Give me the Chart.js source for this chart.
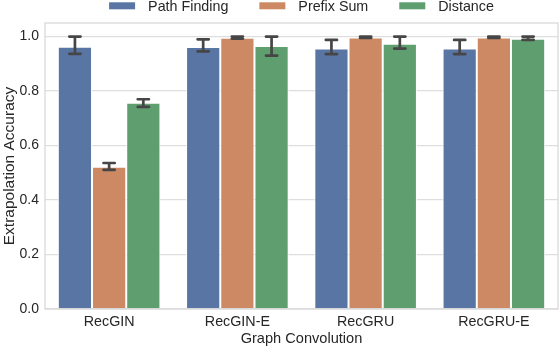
<!DOCTYPE html>
<html>
<head>
<meta charset="utf-8">
<script src="https://cdn.jsdelivr.net/npm/chart.js@4.4.1/dist/chart.umd.min.js"></script>
<style>
  html, body { margin: 0; padding: 0; background: #fff; }
  #wrap { width: 560px; height: 348px; }
</style>
</head>
<body>
<div id="wrap"><canvas id="chart" width="560" height="348"></canvas></div>
<script>
const categories = ["RecGIN", "RecGIN-E", "RecGRU", "RecGRU-E"];
const seriesNames = ["Path Finding", "Prefix Sum", "Distance"];
const seriesColors = ["#5875a4", "#cc8963", "#5f9e6e"];

const pathFinding = [0.963, 0.962, 0.956, 0.956];
const pathFindingLow = [0.937, 0.946, 0.936, 0.936];
const pathFindingHigh = [1.0, 0.990, 0.988, 0.988];

const prefixSum = [0.522, 0.996, 0.997, 0.997];
const prefixSumLow = [0.511, 0.993, 0.995, 0.995];
const prefixSumHigh = [0.536, 1.0, 1.0, 1.0];

const distance = [0.757, 0.966, 0.974, 0.992];
const distanceLow = [0.742, 0.930, 0.956, 0.988];
const distanceHigh = [0.770, 1.0, 1.0, 1.0];

const yTicks = [0, 0.2, 0.4, 0.6, 0.8, 1.0];

const textColor = "#262626";
const fontFamily = '"Liberation Sans", Arial, sans-serif';
const errorRanges = [
  [pathFindingLow, pathFindingHigh],
  [prefixSumLow, prefixSumHigh],
  [distanceLow, distanceHigh]
];

// frame around the plot + seaborn-like error bars with caps
const errorBarPlugin = {
  id: "errorBars",
  afterDatasetsDraw(chart) {
    const c = chart.ctx;
    const a = chart.chartArea;
    const y = chart.scales.y;
    c.save();
    c.strokeStyle = "#d9d9d9";
    c.lineWidth = 1.3;
    c.strokeRect(a.left, a.top, a.right - a.left, a.bottom - a.top);

    c.strokeStyle = "#464646";
    c.lineWidth = 2.7;
    c.lineCap = "round";
    const cap = 5.6;
    errorRanges.forEach((range, i) => {
      chart.getDatasetMeta(i).data.forEach((bar, j) => {
        const lo = y.getPixelForValue(range[0][j]);
        const hi = y.getPixelForValue(range[1][j]);
        c.beginPath();
        c.moveTo(bar.x, lo); c.lineTo(bar.x, hi);
        c.moveTo(bar.x - cap, lo); c.lineTo(bar.x + cap, lo);
        c.moveTo(bar.x - cap, hi); c.lineTo(bar.x + cap, hi);
        c.stroke();
      });
    });
    c.restore();
  }
};

// legend row above the axes, centred on the plot area
const topLegendPlugin = {
  id: "topLegend",
  afterDraw(chart) {
    const c = chart.ctx;
    const a = chart.chartArea;
    const boxW = 26, boxH = 7, textGap = 13, itemGap = 31;
    c.save();
    c.font = "14.3px " + fontFamily;
    const widths = seriesNames.map(n => boxW + textGap + c.measureText(n).width);
    const total = widths.reduce((s, w) => s + w, 0) + itemGap * (seriesNames.length - 1);
    let x = (a.left + a.right) / 2 - total / 2;
    seriesNames.forEach((name, i) => {
      c.fillStyle = seriesColors[i];
      c.fillRect(x, 2.3, boxW, boxH);
      c.fillStyle = textColor;
      c.textBaseline = "alphabetic";
      c.fillText(name, x + boxW + textGap, 11);
      x += widths[i] + itemGap;
    });
    c.restore();
  }
};

const ctx = document.getElementById("chart").getContext("2d");
new Chart(ctx, {
  type: "bar",
  data: {
    labels: categories,
    datasets: [
      { label: seriesNames[0], data: pathFinding, backgroundColor: seriesColors[0] },
      { label: seriesNames[1], data: prefixSum, backgroundColor: seriesColors[1] },
      { label: seriesNames[2], data: distance, backgroundColor: seriesColors[2] }
    ]
  },
  options: {
    responsive: false,
    animation: false,
    devicePixelRatio: 1,
    layout: { padding: { top: 23, right: 2, left: 0, bottom: 0 } },
    datasets: {
      bar: {
        categoryPercentage: 0.8,
        barPercentage: 1.0,
        borderColor: "#ffffff",
        borderWidth: 1,
        borderSkipped: "start"
      }
    },
    plugins: {
      legend: { display: false },
      tooltip: { enabled: false }
    },
    scales: {
      x: {
        afterFit: s => { s.height = 39; },
        grid: { display: false, drawTicks: false },
        border: { display: false },
        ticks: { color: textColor, font: { family: fontFamily, size: 14.3 }, padding: 4 },
        title: {
          display: true,
          text: "Graph Convolution",
          color: textColor,
          font: { family: fontFamily, size: 14.6 },
          padding: { top: 0, bottom: 0 }
        }
      },
      y: {
        min: 0,
        max: 1.05,
        afterBuildTicks: s => { s.ticks = yTicks.map(v => ({ value: v })); },
        afterFit: s => { s.width = 45; },
        grid: { color: "#dedede", lineWidth: 1.3, drawTicks: false },
        border: { display: false },
        ticks: {
          color: textColor,
          font: { family: fontFamily, size: 14 },
          padding: 6,
          callback: v => v.toFixed(1)
        },
        title: {
          display: true,
          text: "Extrapolation Accuracy",
          color: textColor,
          font: { family: fontFamily, size: 15.5 },
          padding: { top: 0, bottom: 0 }
        }
      }
    }
  },
  plugins: [errorBarPlugin, topLegendPlugin]
});
</script>
</body>
</html>
